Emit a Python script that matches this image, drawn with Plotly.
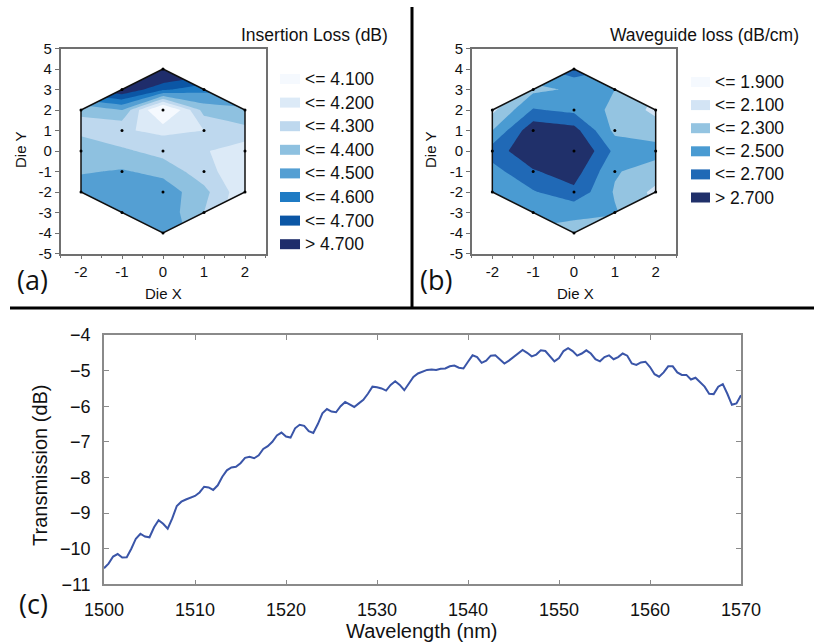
import plotly.graph_objects as go

# ---------------- data ----------------
die_x = [-2, -1, 0, 1, 2]
die_y = [4, 3, 2, 1, 0, -1, -2, -3, -4]          # rows listed top to bottom

il_grid = [
    [4.85, 5.00, 4.88, 4.80, 4.65],
    [4.70, 4.79, 4.62, 4.53, 4.53],
    [4.31, 4.40, 3.92, 4.34, 4.38],
    [4.28, 4.21, 4.18, 4.20, 4.27],
    [4.35, 4.32, 4.26, 4.21, 4.14],
    [4.39, 4.41, 4.37, 4.24, 4.12],
    [4.46, 4.45, 4.46, 4.33, 4.12],
    [4.47, 4.47, 4.47, 4.30, 4.10],
    [4.48, 4.49, 4.49, 4.32, 4.20],
]
# (b) waveguide loss (dB/cm)
wg_grid = [
    [2.00, 2.45, 2.62, 2.50, 2.30],
    [1.80, 2.25, 2.33, 2.30, 2.10],
    [2.05, 2.52, 2.45, 2.25, 2.05],
    [2.30, 2.85, 2.78, 2.25, 2.20],
    [2.60, 2.85, 2.95, 2.45, 2.38],
    [2.42, 2.68, 2.80, 2.32, 2.20],
    [2.40, 2.48, 2.65, 2.28, 2.05],
    [2.32, 2.40, 2.33, 2.32, 2.09],
    [2.30, 2.25, 2.25, 2.17, 2.10],
]

il_levels = [4.1, 4.2, 4.3, 4.4, 4.5, 4.6, 4.7]
il_colors = ["#f5f9fe", "#dceaf7", "#bed8ee", "#8ec1e0", "#549fd3", "#1f7bc4", "#0b56a5", "#1f2d6b"]
wg_levels = [1.9, 2.1, 2.3, 2.5, 2.7]
wg_colors = ["#f5f9fe", "#d3e4f5", "#94c4e1", "#4a9bd2", "#2069b6", "#20306a"]

il_title = "Insertion Loss (dB)"
wg_title = "Waveguide loss (dB/cm)"

# measured die sites
site_x = [0, -1, 1, -2, 0, 2, -1, 1, -2, 0, 2, -1, 1, -2, 0, 2, -1, 1, 0]
site_y = [4, 3, 3, 2, 2, 2, 1, 1, 0, 0, 0, -1, -1, -2, -2, -2, -3, -3, -4]

# wafer outline
wafer_x = [0, 2, 2, 0, -2, -2, 0]
wafer_y = [4, 2, -2, -4, -2, 2, 4]

map_xticks = [-2, -1, 0, 1, 2]
map_yticks = [5, 4, 3, 2, 1, 0, -1, -2, -3, -4, -5]

# (c) transmission spectrum
wavelength = [1500.0 + 0.5 * i for i in range(141)]
transmission = [
    -10.55, -10.42, -10.22, -10.15, -10.25, -10.24, -10.00, -9.72, -9.58, -9.66,
    -9.68, -9.40, -9.20, -9.30, -9.44, -9.15, -8.80, -8.68, -8.62, -8.57,
    -8.52, -8.42, -8.26, -8.28, -8.35, -8.22, -7.98, -7.80, -7.72, -7.70,
    -7.60, -7.45, -7.42, -7.46, -7.38, -7.20, -7.12, -7.00, -6.82, -6.74,
    -6.85, -6.88, -6.62, -6.52, -6.55, -6.70, -6.75, -6.50, -6.20, -6.08,
    -6.15, -6.17, -6.00, -5.88, -5.95, -6.02, -5.92, -5.82, -5.65, -5.45,
    -5.47, -5.50, -5.56, -5.40, -5.30, -5.40, -5.55, -5.35, -5.18, -5.08,
    -5.03, -4.98, -4.97, -4.98, -4.95, -4.94, -4.88, -4.86, -4.92, -4.94,
    -4.75, -4.57, -4.62, -4.78, -4.72, -4.58, -4.57, -4.70, -4.80, -4.72,
    -4.62, -4.50, -4.42, -4.50, -4.60, -4.55, -4.43, -4.45, -4.60, -4.74,
    -4.65, -4.45, -4.37, -4.45, -4.58, -4.52, -4.43, -4.52, -4.68, -4.74,
    -4.62, -4.57, -4.68, -4.62, -4.52, -4.58, -4.80, -4.84, -4.77, -4.75,
    -4.90, -5.10, -5.17, -5.05, -4.88, -4.88, -5.05, -5.12, -5.12, -5.25,
    -5.20, -5.33, -5.45, -5.65, -5.66, -5.45, -5.38, -5.65, -5.96, -5.92,
    -5.69,
]

# ---------------- helpers ----------------
W, H = 814, 644
def px(x):
    return x / W
def py(y):
    return 1 - y / H

FONT = "Liberation Sans, Arial, sans-serif"
LBL_FONT = "Open Sans, Noto Sans, sans-serif"

fig = go.Figure()

def sgn(v):
    return 1 if v > 0 else -1

def add_map(grid, levels, colors, xa, ya):
    y_asc = die_y[::-1]
    z_asc = grid[::-1]
    n = len(colors)
    step = round(levels[1] - levels[0], 6)
    fig.add_trace(go.Contour(
        x=die_x, y=y_asc, z=z_asc, xaxis=xa, yaxis=ya,
        autocontour=False,
        contours=dict(start=levels[0], end=levels[-1], size=step,
                      coloring="fill", showlines=False),
        colorscale=[[k / (n - 1), c] for k, c in enumerate(colors)],
        showscale=False, line=dict(width=0, smoothing=0), hoverinfo="skip"))
    # white masks outside the wafer outline
    mx, my = [], []
    pts = list(zip(wafer_x, wafer_y))
    e = 0.3
    for (x0, y0), (x1, y1) in zip(pts[:-1], pts[1:]):
        if x0 == x1:
            continue
        if abs(y0) > abs(y1):
            (tx, ty), (sx, sy) = (x0, y0), (x1, y1)
        else:
            (tx, ty), (sx, sy) = (x1, y1), (x0, y0)
        poly_x = [tx, tx, sx + e * sgn(sx), sx + e * sgn(sx), sx, tx]
        poly_y = [ty, ty + e * sgn(ty), ty + e * sgn(ty), sy, sy, ty]
        mx += poly_x + [None]
        my += poly_y + [None]
    fig.add_trace(go.Scatter(x=mx, y=my, xaxis=xa, yaxis=ya, mode="lines",
                             fill="toself", fillcolor="white",
                             line=dict(width=0, color="white"),
                             hoverinfo="skip", showlegend=False))
    fig.add_trace(go.Scatter(x=wafer_x, y=wafer_y, xaxis=xa, yaxis=ya, mode="lines",
                             line=dict(color="#111111", width=1.5),
                             hoverinfo="skip", showlegend=False))
    fig.add_trace(go.Scatter(x=site_x, y=site_y, xaxis=xa, yaxis=ya, mode="markers",
                             marker=dict(color="black", size=3),
                             hoverinfo="skip", showlegend=False))

add_map(il_grid, il_levels, il_colors, "x", "y")
add_map(wg_grid, wg_levels, wg_colors, "x2", "y2")

fig.add_trace(go.Scatter(x=wavelength, y=transmission, xaxis="x3", yaxis="y3",
                         mode="lines", line=dict(color="#3a55a8", width=2),
                         showlegend=False, hoverinfo="skip"))

map_ax_common = dict(showgrid=False, zeroline=False, showline=True, mirror=True,
                     automargin=False,
                     linecolor="#707070", linewidth=1.5, ticks="outside", ticklen=4,
                     tickcolor="#707070", tickwidth=1.2,
                     tickfont=dict(family=FONT, size=15, color="#111"))

def map_axes(dom_x):
    xa = dict(map_ax_common, domain=dom_x, range=[-2.5, 2.5],
              tickmode="array", tickvals=map_xticks, ticktext=[str(v) for v in map_xticks],
              minor=dict(dtick=0.5, tick0=0, ticks="outside", ticklen=3, tickcolor="#707070"))
    ya = dict(map_ax_common, domain=[py(253.5), py(48.5)], range=[-5, 5],
              tickmode="array", tickvals=map_yticks, ticktext=[str(v) for v in map_yticks])
    return xa, ya

xa1, ya1 = map_axes([px(60.5), px(265.5)])
xa2, ya2 = map_axes([px(471.9), px(676.1)])
xa1["anchor"] = "y"; ya1["anchor"] = "x"
xa2["anchor"] = "y2"; ya2["anchor"] = "x2"

c_common = dict(showgrid=False, zeroline=False, showline=True, mirror="ticks",
                automargin=False,
                linecolor="#8a8a8a", linewidth=1.5, ticks="inside", ticklen=5,
                tickcolor="#8a8a8a", tickwidth=1.2,
                tickfont=dict(family=FONT, size=18, color="#111"))
xa3 = dict(c_common, domain=[px(104), px(741)], range=[1500, 1570], dtick=10,
           anchor="y3", ticklabelstandoff=8)
ya3 = dict(c_common, domain=[py(584.3), py(335)], range=[-11, -4], dtick=1,
           anchor="x3", ticklabelstandoff=8)

annotations = []
shapes = []

def text(x, y, s, size, family=FONT, xanchor="center", angle=0):
    annotations.append(dict(x=px(x), y=py(y), xref="paper", yref="paper", text=s,
                            showarrow=False, xanchor=xanchor, yanchor="middle",
                            textangle=angle, font=dict(family=family, size=size, color="#111")))

def legend(levels, colors, title, title_x, sw_x0, sw_x1, row0, step):
    text(title_x, 35, title, 17.5)
    labels = ["<= %.3f" % v for v in levels] + ["> %.3f" % levels[-1]]
    for i, (lab, col) in enumerate(zip(labels, colors)):
        yc = row0 + i * step
        shapes.append(dict(type="rect", xref="paper", yref="paper",
                           x0=px(sw_x0), x1=px(sw_x1), y0=py(yc + 5), y1=py(yc - 5),
                           fillcolor=col, line=dict(width=0)))
        text(sw_x1 + 3, yc, lab, 17.5, xanchor="left")

legend(il_levels, il_colors, il_title, 314.5, 280, 300, 79, 23.6)
legend(wg_levels, wg_colors, wg_title, 704.5, 691, 710, 82, 23.1)

# axis titles
text(20, 150, "Die Y", 15, angle=-90)
text(163, 293, "Die X", 15)
text(430, 150, "Die Y", 15, angle=-90)
text(575, 293, "Die X", 15)
text(40, 465, "Transmission (dB)", 20, angle=-90)
text(422, 631, "Wavelength (nm)", 20)

# panel labels
text(32, 280, "(a)", 27, family=LBL_FONT)
text(436, 280, "(b)", 27, family=LBL_FONT)
text(33, 603, "(c)", 27, family=LBL_FONT)

# divider lines
shapes.append(dict(type="line", xref="paper", yref="paper", x0=px(412), x1=px(412),
                   y0=py(7), y1=py(308), line=dict(color="black", width=3)))
shapes.append(dict(type="line", xref="paper", yref="paper", x0=px(10), x1=px(814),
                   y0=py(308), y1=py(308), line=dict(color="black", width=3)))

fig.update_layout(
    width=W, height=H, margin=dict(l=0, r=0, t=0, b=0, autoexpand=False),
    paper_bgcolor="white", plot_bgcolor="white", showlegend=False,
    xaxis=xa1, yaxis=ya1, xaxis2=xa2, yaxis2=ya2, xaxis3=xa3, yaxis3=ya3,
    annotations=annotations, shapes=shapes,
    font=dict(family=FONT, color="#111"),
)

fig.write_html("out.html")
